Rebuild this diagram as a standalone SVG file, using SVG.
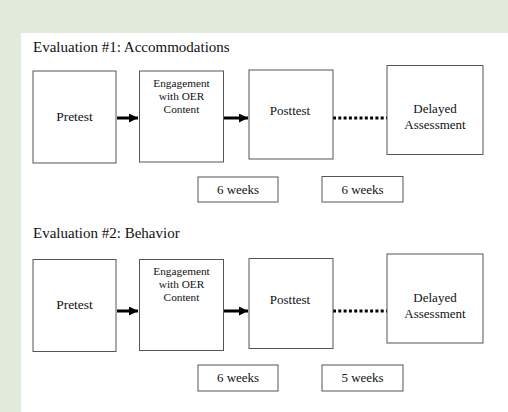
<svg xmlns="http://www.w3.org/2000/svg" width="508" height="412" viewBox="0 0 508 412">
<defs>
<style>
.box{fill:#fff;stroke:#555;stroke-width:1}
.t{font-family:"Liberation Serif","Times New Roman",serif;fill:#111;text-anchor:middle}
.title{font-family:"Liberation Serif","Times New Roman",serif;fill:#111;font-size:15px}
.arr{stroke:#000;stroke-width:3;fill:none}
.dot{stroke:#000;stroke-width:3;stroke-dasharray:3 2.3;fill:none}
</style>
<marker id="ah" viewBox="0 0 10 10" refX="10" refY="5" markerWidth="10" markerHeight="9" markerUnits="userSpaceOnUse" orient="auto">
<path d="M0,0 L10,5 L0,10 z" fill="#000"/>
</marker>
</defs>
<rect width="508" height="412" fill="#e2eadc"/>
<rect x="21" y="33" width="487" height="379" fill="#fff"/>
<text class="title" x="33" y="52">Evaluation #1: Accommodations</text>
<text class="title" x="33" y="238">Evaluation #2: Behavior</text>
<g id="connectors">
<line class="arr" x1="117" y1="118" x2="138" y2="118" marker-end="url(#ah)"/>
<line class="arr" x1="224" y1="118" x2="248" y2="118" marker-end="url(#ah)"/>
<line class="dot" x1="333" y1="118" x2="387" y2="118"/>
<line class="arr" x1="117" y1="311" x2="138" y2="311" marker-end="url(#ah)"/>
<line class="arr" x1="224" y1="311" x2="248" y2="311" marker-end="url(#ah)"/>
<line class="dot" x1="333" y1="311" x2="387" y2="311"/>
</g>
<g id="e1-pretest"><rect class="box" x="33" y="71" width="83" height="92"/><text class="t" x="74.5" y="121" font-size="13.5">Pretest</text></g>
<g id="e1-engagement"><rect class="box" x="139.5" y="71" width="84" height="91"/><text class="t" x="181.5" y="87" font-size="11.3">Engagement</text><text class="t" x="181.5" y="100" font-size="11.3">with OER</text><text class="t" x="181.5" y="113" font-size="11.3">Content</text></g>
<g id="e1-posttest"><rect class="box" x="249" y="70" width="84" height="89"/><text class="t" x="290" y="115" font-size="13">Posttest</text></g>
<g id="e1-delayed"><rect class="box" x="387" y="65.5" width="96" height="89"/><text class="t" x="435" y="113" font-size="13">Delayed</text><text class="t" x="435" y="129" font-size="13">Assessment</text></g>
<g id="e1-w1"><rect class="box" x="198" y="177" width="80" height="25"/><text class="t" x="238" y="194" font-size="13">6 weeks</text></g>
<g id="e1-w2"><rect class="box" x="322" y="176.5" width="81" height="25.5"/><text class="t" x="362.5" y="194" font-size="13">6 weeks</text></g>
<g id="e2-pretest"><rect class="box" x="33" y="259.5" width="83" height="92"/><text class="t" x="74.5" y="309" font-size="13.5">Pretest</text></g>
<g id="e2-engagement"><rect class="box" x="139.5" y="259.5" width="84" height="91"/><text class="t" x="181.5" y="275" font-size="11.3">Engagement</text><text class="t" x="181.5" y="288" font-size="11.3">with OER</text><text class="t" x="181.5" y="301" font-size="11.3">Content</text></g>
<g id="e2-posttest"><rect class="box" x="249" y="258.5" width="84" height="90"/><text class="t" x="290" y="304" font-size="13">Posttest</text></g>
<g id="e2-delayed"><rect class="box" x="387" y="254" width="96" height="89"/><text class="t" x="435" y="302" font-size="13">Delayed</text><text class="t" x="435" y="318" font-size="13">Assessment</text></g>
<g id="e2-w1"><rect class="box" x="198" y="365" width="80" height="26"/><text class="t" x="238" y="382" font-size="13">6 weeks</text></g>
<g id="e2-w2"><rect class="box" x="322" y="365" width="81" height="26"/><text class="t" x="362.5" y="382" font-size="13">5 weeks</text></g>
</svg>
